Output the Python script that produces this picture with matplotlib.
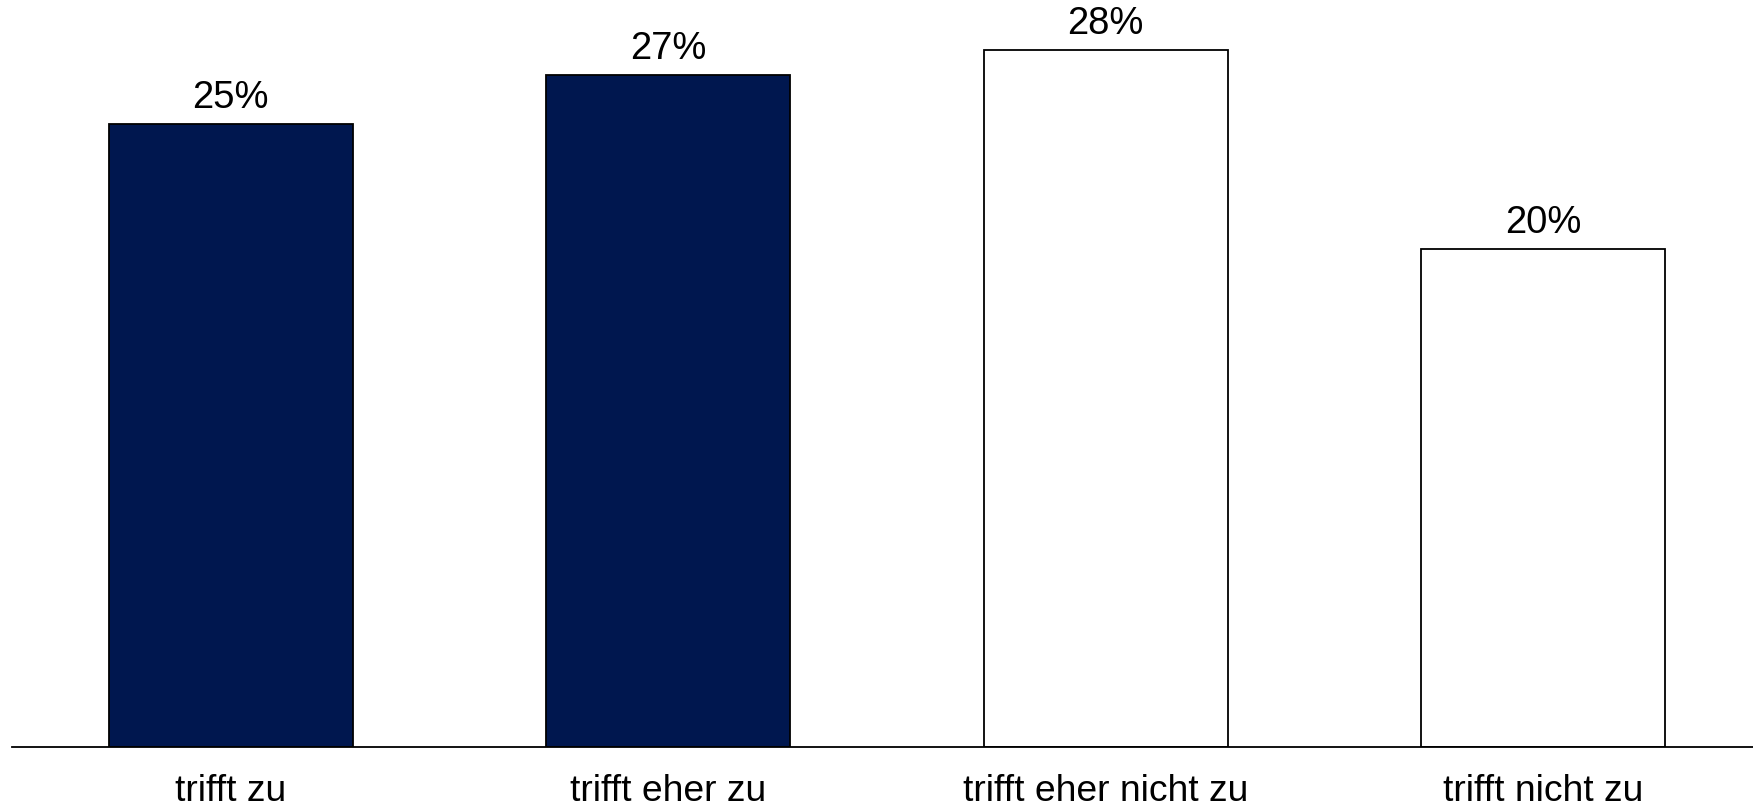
import matplotlib
matplotlib.use("Agg")
import matplotlib.pyplot as plt
import numpy as np

categories = ["trifft zu", "trifft eher zu", "trifft eher nicht zu", "trifft nicht zu"]
values = [25, 27, 28, 20]
fill_colors = ["#00174f", "#00174f", "white", "white"]

plt.rcParams["font.family"] = ["Liberation Sans", "DejaVu Sans"]

W, H = 1753, 809
fig = plt.figure(figsize=(W / 100, H / 100), dpi=100)
base = 746.5
ax = fig.add_axes([12 / W, (H - base) / H, 1 - 12 / W, base / H])

x = np.arange(len(categories))
ax.bar(x, values, width=0.558, color=fill_colors, edgecolor="black", linewidth=1.3)

for xi, v in zip(x, values):
    ax.annotate(f"{v}%", (xi, v), xytext=(0, 8), textcoords="offset pixels",
                ha="center", va="bottom", fontsize=27.5)

ax.set_xlim(-0.5, 3.48)
ax.set_ylim(0, 30)
ax.set_xticks(x)
ax.set_xticklabels(categories, fontsize=26.8)
ax.tick_params(axis="x", length=0, pad=20)
ax.set_yticks([])
for side in ["top", "right", "left"]:
    ax.spines[side].set_visible(False)
ax.spines["bottom"].set_linewidth(1.3)
ax.patch.set_visible(False)

fig.savefig("out.png", dpi=100)
